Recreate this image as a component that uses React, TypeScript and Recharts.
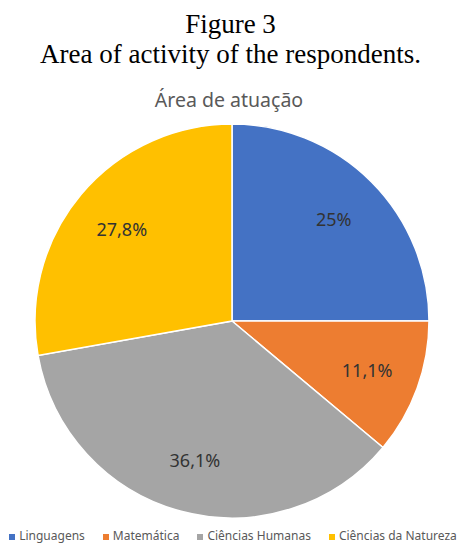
import React from 'react';
import { PieChart, Pie, Cell, Legend } from 'recharts';

const categories = ['Linguagens', 'Matemática', 'Ciências Humanas', 'Ciências da Natureza'];
const percents = [25, 11.1, 36.1, 27.8];
const colors = ['#4472C4', '#ED7D31', '#A5A5A5', '#FFC000'];
const figureLabel = 'Figure 3';
const figureCaption = 'Area of activity of the respondents.';
const chartTitle = 'Área de atuação';

const data = categories.map((name, i) => ({ name, value: percents[i] }));

const RADIAN = Math.PI / 180;

const renderLabel = (props: any) => {
  const { cx, cy, midAngle, outerRadius, value } = props;
  const r = outerRadius * 0.73;
  const x = cx + r * Math.cos(-midAngle * RADIAN);
  const y = cy + r * Math.sin(-midAngle * RADIAN);
  return (
    <text
      x={x}
      y={y}
      fill="#333333"
      textAnchor="middle"
      dominantBaseline="central"
      style={{ fontFamily: '"Noto Sans", sans-serif', fontSize: 18 }}
    >
      {String(value).replace('.', ',') + '%'}
    </text>
  );
};

export default function App() {
  return (
    <div
      style={{
        position: 'absolute',
        left: 0,
        top: 0,
        width: 461,
        height: 544,
        background: '#ffffff',
        overflow: 'hidden',
      }}
    >
      <style>{`.recharts-legend-item{margin-right:18px !important}.recharts-legend-item:last-child{margin-right:0 !important}`}</style>
      <div
        style={{
          position: 'absolute',
          top: 9,
          left: 0,
          width: 461,
          textAlign: 'center',
          fontFamily: '"Liberation Serif", "Times New Roman", serif',
          fontSize: 27,
          lineHeight: '30px',
          color: '#000',
        }}
      >
        <div>{figureLabel}</div>
        <div>{figureCaption}</div>
      </div>
      <div
        style={{
          position: 'absolute',
          top: 88,
          left: 0,
          width: 458,
          textAlign: 'center',
          fontFamily: '"Noto Sans", sans-serif',
          fontSize: 19.5,
          lineHeight: '24px',
          color: '#595959',
        }}
      >
        {chartTitle}
      </div>
      <div style={{ position: 'absolute', left: 0, top: 0 }}>
        <PieChart width={461} height={544} margin={{ top: 0, right: 0, bottom: 0, left: 0 }}>
          <Pie
            data={data}
            dataKey="value"
            nameKey="name"
            cx={232}
            cy={321}
            outerRadius={197}
            startAngle={90}
            endAngle={-270}
            stroke="#ffffff"
            strokeWidth={1.5}
            label={renderLabel}
            labelLine={false}
            isAnimationActive={false}
          >
            {data.map((d, i) => (
              <Cell key={d.name} fill={colors[i]} />
            ))}
          </Pie>
          <Legend
            verticalAlign="bottom"
            align="center"
            iconType="square"
            iconSize={6}
            itemSorter={null as any}
            formatter={(value: any) => <span style={{ color: '#595959' }}>{value}</span>}
            wrapperStyle={{
              fontFamily: '"Noto Sans", sans-serif',
              fontSize: 12,
              lineHeight: '16px',
              bottom: 0,
              left: 0,
              width: 466,
            }}
          />
        </PieChart>
      </div>
    </div>
  );
}
